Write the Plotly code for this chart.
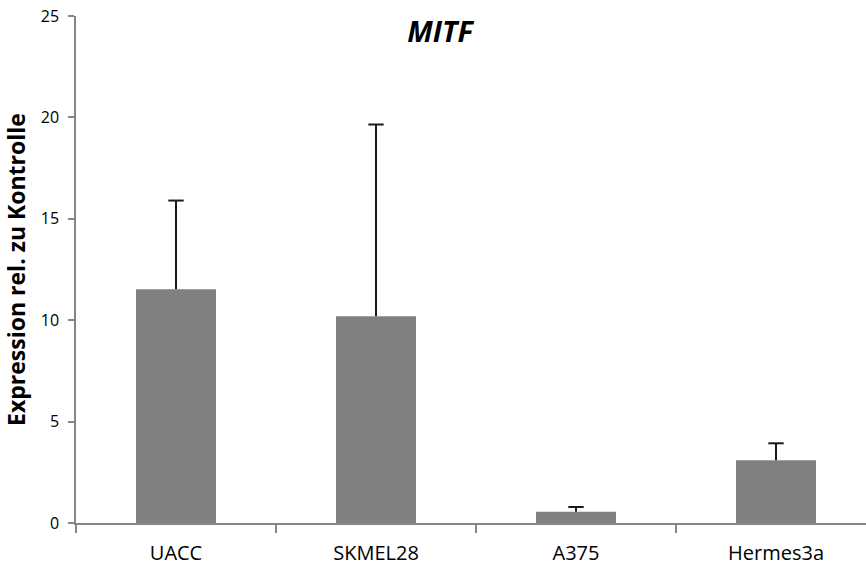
import plotly.graph_objects as go

categories = ["UACC", "SKMEL28", "A375", "Hermes3a"]
expression = [11.53, 10.2, 0.56, 3.09]
error_plus = [4.37, 9.45, 0.23, 0.84]

upper = [v + e for v, e in zip(expression, error_plus)]

# whisker segments from the bar top up to mean + error (one-sided bars)
seg_x, seg_y = [], []
for c, v, u in zip(categories, expression, upper):
    seg_x += [c, c, None]
    seg_y += [v, u, None]

fig = go.Figure()
fig.add_trace(go.Bar(
    x=categories,
    y=expression,
    marker=dict(color="#808080", line=dict(width=0)),
))
fig.add_trace(go.Scatter(
    x=seg_x, y=seg_y, mode="lines",
    line=dict(color="#1a1a1a", width=2),
    hoverinfo="skip",
))
fig.add_trace(go.Scatter(
    x=categories, y=upper, mode="markers",
    marker=dict(symbol="line-ew", size=11, line=dict(color="#1a1a1a", width=2)),
    hoverinfo="skip",
))

fig.update_layout(
    width=866, height=567,
    margin=dict(l=76, r=0, t=16, b=44),
    paper_bgcolor="white", plot_bgcolor="white",
    bargap=0.6,
    showlegend=False,
    font=dict(family="Open Sans, Liberation Sans, sans-serif", color="#000000"),
    title=dict(text="<b><i>MITF</i></b>", x=440 / 866, xanchor="center",
               y=1 - 32 / 567, yanchor="middle",
               font=dict(size=29, family="Open Sans, sans-serif", color="#000000")),
)
fig.update_xaxes(
    range=[-0.5, 3.45],
    showline=True, linecolor="#868686", linewidth=1.5,
    ticks="outside", tickson="boundaries", ticklen=8, tickcolor="#868686", tickwidth=1.5,
    tickfont=dict(size=20),
    ticklabelstandoff=11,
    showgrid=False, zeroline=False,
)
fig.update_yaxes(
    range=[0, 25], dtick=5,
    showline=True, linecolor="#868686", linewidth=1.5,
    ticks="outside", ticklen=6, tickcolor="#868686", tickwidth=1.5,
    tickfont=dict(size=16),
    ticklabelstandoff=6,
    showgrid=False, zeroline=False,
    title=dict(text="<b>Expression rel. zu Kontrolle</b>", font=dict(size=23), standoff=10),
)

fig.write_html("out.html")
